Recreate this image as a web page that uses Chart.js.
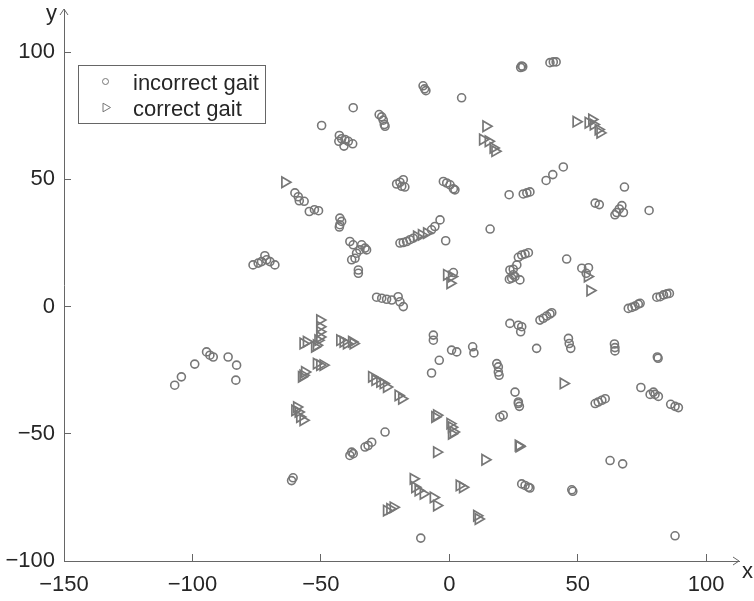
<!DOCTYPE html>
<html>
<head>
<meta charset="utf-8">
<title>Gait embedding</title>
<script src="https://cdn.jsdelivr.net/npm/chart.js@4/dist/chart.umd.min.js"></script>
<style>
  html, body { margin: 0; padding: 0; background: #fff; }
  canvas { display: block; }
</style>
</head>
<body>
<canvas id="chart" width="754" height="601"></canvas>
<script>
// axis ticks
const xTicks = [-150, -100, -50, 0, 50, 100];
const yTicks = [-100, -50, 0, 50, 100];

// [x, y] for each sample
const incorrectGait = [
	[-10.2, 86.8], [-9.6, 85.6], [-9.1, 84.9], [4.8, 82.1], [-37.4, 78.2], [-49.7, 71.2],
	[-42.8, 67.3], [-41.9, 66.0], [-40.6, 65.7], [-39.3, 65.0], [-37.6, 64.0], [-41.0, 63.1], [-43.0, 65.0],
	[-27.3, 75.5], [-26.3, 74.6], [-25.7, 73.3], [-25.3, 71.6], [-25.0, 70.9],
	[-60.1, 44.7], [-58.8, 43.2], [-58.4, 41.6], [-56.5, 41.4], [-54.5, 37.4], [-52.5, 38.1], [-50.9, 37.7],
	[-20.5, 48.2], [-19.2, 48.9], [-17.9, 49.9], [-17.3, 47.0], [-18.5, 47.3],
	[-2.3, 49.2], [-1.0, 48.6], [0.3, 47.9], [1.6, 46.3], [2.2, 45.9],
	[27.8, 94.0], [28.2, 94.6], [28.6, 94.3], [39.2, 95.9], [40.5, 96.2], [41.6, 96.2],
	[44.4, 54.9], [40.3, 51.9], [37.7, 49.6], [68.2, 47.0],
	[23.3, 44.0], [28.8, 44.3], [30.2, 44.7], [31.4, 45.1], [56.8, 40.7], [58.4, 40.1],
	[64.5, 36.1], [65.2, 37.0], [66.2, 38.4], [67.2, 39.7], [67.8, 37.0], [77.8, 37.8],
	[26.9, 19.4], [28.2, 20.3], [29.5, 20.7], [30.8, 21.2],
	[23.6, 14.4], [24.9, 14.7], [26.3, 16.4], [25.6, 11.8], [24.3, 11.2], [23.4, 10.8], [27.5, 10.5], [24.9, 12.5],
	[45.7, 18.7], [51.6, 15.1], [54.2, 15.3], [53.3, 13.1],
	[69.7, -0.7], [71.1, -0.3], [72.3, 0.2], [73.6, 1.0], [74.3, 1.3],
	[80.8, 3.7], [82.1, 3.9], [83.4, 4.6], [84.7, 5.0], [85.7, 5.2],
	[23.6, -6.6], [26.9, -7.3], [28.2, -7.9], [27.8, -9.9],
	[35.3, -5.3], [36.6, -4.6], [37.9, -3.7], [39.2, -2.9], [39.9, -2.4],
	[34.0, -16.4], [46.4, -12.5], [46.7, -14.5], [47.3, -16.4],
	[64.3, -14.7], [64.5, -16.1], [64.5, -17.4], [81.0, -19.8], [81.3, -20.3],
	[18.5, -22.4], [19.1, -23.7], [19.1, -25.7], [19.4, -27.0],
	[25.6, -33.6], [26.9, -37.5], [27.3, -39.2], [26.9, -38.1], [19.7, -43.4], [21.0, -42.7],
	[56.8, -38.1], [58.0, -37.5], [59.4, -36.8], [60.7, -36.2], [74.6, -31.8],
	[78.2, -34.5], [79.5, -33.6], [80.1, -34.5], [81.4, -35.3], [86.2, -38.4], [87.9, -39.2], [89.2, -39.7],
	[62.6, -60.5], [67.5, -61.8], [28.2, -69.7], [29.5, -70.3], [30.8, -71.0], [31.4, -71.3],
	[47.7, -72.0], [48.1, -72.6], [87.9, -90.1], [-6.9, -26.1], [-11.1, -91.0],
	[-25.0, -49.3], [-30.2, -53.3], [-31.6, -54.6], [-32.8, -55.2], [-37.4, -57.8], [-38.7, -58.5], [-38.0, -57.2],
	[-106.9, -30.9], [-104.3, -27.6], [-99.1, -22.6], [-94.5, -17.8], [-93.2, -19.1], [-91.9, -19.8],
	[-86.1, -19.8], [-82.8, -23.0], [-83.1, -28.9], [-61.4, -68.4], [-60.8, -67.3],
	[-76.4, 16.4], [-74.4, 17.1], [-73.1, 17.7], [-71.8, 20.0], [-71.1, 18.4], [-69.8, 17.7], [-67.9, 16.4],
	[-42.6, 34.8], [-41.9, 33.5], [-42.6, 32.2], [-42.8, 31.3],
	[-38.7, 25.6], [-37.4, 24.3], [-34.1, 24.3], [-32.8, 23.0], [-32.2, 22.3], [-34.8, 22.3],
	[-36.1, 21.0], [-38.0, 18.4], [-36.7, 19.0], [-35.4, 14.4], [-35.4, 13.1],
	[-19.2, 25.0], [-17.9, 25.2], [-16.6, 25.6], [-15.3, 26.3], [-14.0, 26.9],
	[-6.9, 30.2], [-5.6, 31.5], [-3.6, 34.1], [-1.4, 25.9], [15.9, 30.5], [1.6, 13.4],
	[-28.3, 3.7], [-26.3, 3.3], [-24.4, 2.9], [-22.4, 2.6], [-19.9, 3.9], [-19.2, 1.9], [-17.9, 0.0],
	[-6.2, -11.2], [-6.2, -13.2], [0.9, -17.1], [2.9, -17.8], [9.1, -15.8], [9.6, -18.2], [-3.9, -21.1]
];

const correctGait = [
	[-64.0, 48.9],
	[14.3, 70.9], [13.0, 65.7], [15.2, 65.0], [17.1, 62.4], [17.8, 61.1],
	[49.4, 72.7], [54.1, 72.3], [55.5, 73.6], [56.1, 71.6], [58.0, 69.6], [58.7, 68.3],
	[-12.7, 27.6], [-10.8, 28.2], [-8.8, 28.9],
	[-1.0, 12.5], [0.9, 11.8], [0.3, 9.2], [53.8, 11.8], [54.8, 6.3],
	[-50.4, -5.3], [-50.4, -7.9], [-50.4, -9.9], [-50.4, -11.9], [-51.1, -13.2], [-51.7, -15.2],
	[-52.4, -15.8], [-56.9, -14.5], [-55.6, -13.8],
	[-42.6, -13.2], [-41.3, -13.8], [-40.0, -14.5], [-38.0, -13.8], [-37.4, -14.5],
	[-51.7, -22.4], [-50.4, -23.0], [-49.1, -23.0], [-56.3, -25.7], [-56.9, -27.0], [-57.5, -27.6],
	[-30.2, -27.6], [-28.9, -28.9], [-27.0, -29.6], [-25.7, -30.2], [-24.4, -31.6], [-19.9, -34.9], [-18.5, -36.2],
	[44.4, -30.2], [26.9, -54.6], [27.2, -55.0],
	[-60.1, -40.8], [-58.8, -41.4], [-58.2, -43.4], [-56.9, -44.7], [-59.4, -39.5],
	[-5.6, -43.4], [-4.9, -42.7], [0.3, -46.0], [0.9, -47.4], [1.6, -49.3], [0.9, -50.0],
	[-4.9, -57.2], [13.9, -60.2],
	[-14.0, -67.7], [-13.4, -71.0], [-12.1, -72.3], [-10.1, -73.6], [-6.2, -75.0], [-4.9, -78.2],
	[3.9, -70.3], [5.2, -71.0], [10.7, -82.2], [11.3, -83.5],
	[-24.4, -80.2], [-23.1, -79.5], [-21.8, -78.9]
];

const markerColor = '#777777';
const axisColor = '#666666';
const textColor = '#262626';
const fontFamily = '"Liberation Sans", Arial, Helvetica, sans-serif';

const toPoints = rows => rows.map(([x, y]) => ({ x, y }));
// typographic minus for negative tick values
const tickLabel = v => (v < 0 ? '\u2212' + Math.abs(v) : String(v));

// open arrowheads at the axis ends plus the x / y names
const axisArrows = {
	id: 'axisArrows',
	afterDraw(chart) {
		const { ctx } = chart;
		const { left, right, top, bottom } = chart.chartArea;
		ctx.save();
		ctx.strokeStyle = axisColor;
		ctx.lineWidth = 1;
		ctx.beginPath();
		ctx.moveTo(left - 4, top + 6);
		ctx.lineTo(left, top);
		ctx.lineTo(left + 4, top + 6);
		ctx.moveTo(right - 6, bottom - 4);
		ctx.lineTo(right, bottom);
		ctx.lineTo(right - 6, bottom + 4);
		ctx.stroke();

		ctx.fillStyle = textColor;
		ctx.font = '22px ' + fontFamily;
		ctx.textBaseline = 'alphabetic';
		ctx.textAlign = 'right';
		ctx.fillText('y', left - 7, top + 11);
		ctx.textAlign = 'left';
		ctx.fillText('x', right + 3, bottom + 17);
		ctx.restore();
	}
};

// boxed legend in the upper left of the plot
const boxLegend = {
	id: 'boxLegend',
	afterDatasetsDraw(chart) {
		const { ctx } = chart;
		const x0 = chart.chartArea.left + 14;
		const y0 = 65.5;
		ctx.save();
		ctx.fillStyle = '#fff';
		ctx.fillRect(x0, y0, 187, 58);
		ctx.strokeStyle = axisColor;
		ctx.lineWidth = 1;
		ctx.strokeRect(Math.round(x0) + 0.5, y0, 187, 58);

		ctx.font = '22px ' + fontFamily;
		ctx.textAlign = 'left';
		ctx.textBaseline = 'alphabetic';
		chart.data.datasets.forEach((ds, i) => {
			const cy = y0 + 16 + i * 26;
			ctx.strokeStyle = ds.pointBorderColor;
			ctx.fillStyle = 'rgba(0,0,0,0)';
			Chart.helpers.drawPoint(ctx, {
				pointStyle: ds.pointStyle,
				rotation: ds.pointRotation || 0,
				radius: ds.pointRadius - 1,
				borderWidth: 1.2
			}, x0 + 27.5, cy);
			ctx.fillStyle = textColor;
			ctx.fillText(ds.label, x0 + 55, cy + 8);
		});
		ctx.restore();
	}
};

const tickFont = { family: fontFamily, size: 22 };

new Chart(document.getElementById('chart').getContext('2d'), {
	type: 'scatter',
	data: {
		datasets: [{
			label: 'incorrect gait',
			data: toPoints(incorrectGait),
			pointStyle: 'circle',
			pointRadius: 4,
			pointBorderWidth: 1.6,
			pointBorderColor: markerColor,
			pointBackgroundColor: 'rgba(0,0,0,0)'
		}, {
			label: 'correct gait',
			data: toPoints(correctGait),
			pointStyle: 'triangle',
			pointRotation: 90,
			pointRadius: 6,
			pointBorderWidth: 1.7,
			pointBorderColor: markerColor,
			pointBackgroundColor: 'rgba(0,0,0,0)'
		}]
	},
	options: {
		responsive: false,
		animation: false,
		events: [],
		layout: { padding: { top: 9, right: 15, left: 0, bottom: 0 } },
		scales: {
			x: {
				type: 'linear',
				min: -150,
				max: 112.8,
				afterBuildTicks: scale => { scale.ticks = xTicks.map(value => ({ value })); },
				afterFit: scale => {
					scale.height = 40;
					scale.paddingLeft = 0;
					scale.paddingRight = 0;
				},
				grid: { drawOnChartArea: false, tickLength: -7, color: axisColor, tickColor: axisColor },
				border: { color: axisColor, width: 1 },
				ticks: { font: tickFont, color: textColor, padding: 18, maxRotation: 0, autoSkip: false, callback: tickLabel }
			},
			y: {
				type: 'linear',
				min: -100,
				max: 117,
				afterBuildTicks: scale => { scale.ticks = yTicks.map(value => ({ value })); },
				afterFit: scale => {
					scale.width = 64;
					scale.paddingTop = 0;
					scale.paddingBottom = 0;
				},
				grid: { drawOnChartArea: false, tickLength: -7, color: axisColor, tickColor: axisColor },
				border: { color: axisColor, width: 1 },
				ticks: { font: tickFont, color: textColor, padding: 16, autoSkip: false, callback: tickLabel }
			}
		},
		plugins: {
			legend: { display: false },
			tooltip: { enabled: false }
		}
	},
	plugins: [boxLegend, axisArrows]
});
</script>
</body>
</html>
